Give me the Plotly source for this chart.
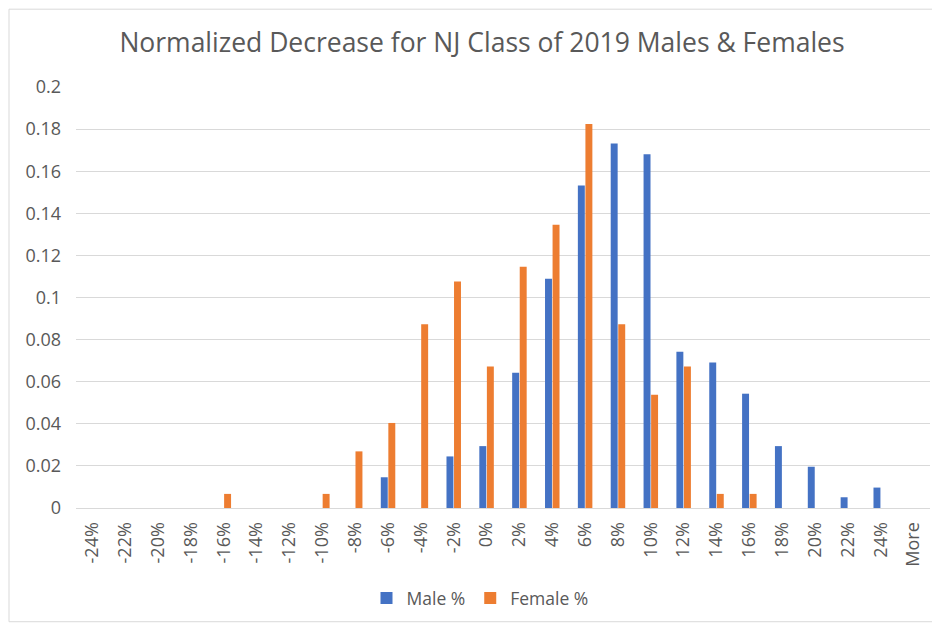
import plotly.graph_objects as go

categories = ["-24%", "-22%", "-20%", "-18%", "-16%", "-14%", "-12%", "-10%", "-8%", "-6%",
              "-4%", "-2%", "0%", "2%", "4%", "6%", "8%", "10%", "12%", "14%", "16%",
              "18%", "20%", "22%", "24%", "More"]
male = [0, 0, 0, 0, 0, 0, 0, 0, 0, 0.0146,
        0, 0.0245, 0.0294, 0.0642, 0.1089, 0.1532, 0.1731, 0.1680, 0.0742, 0.0691, 0.0543,
        0.0294, 0.0196, 0.0051, 0.0097, 0]
female = [0, 0, 0, 0, 0.0067, 0, 0, 0.0067, 0.0269, 0.0404,
          0.0873, 0.1076, 0.0672, 0.1146, 0.1346, 0.1824, 0.0873, 0.0538, 0.0672, 0.0067, 0.0067,
          0, 0, 0, 0, 0]
y_ticks = [0, 0.02, 0.04, 0.06, 0.08, 0.1, 0.12, 0.14, 0.16, 0.18, 0.2]
y_labels = ["0", "0.02", "0.04", "0.06", "0.08", "0.1", "0.12", "0.14", "0.16", "0.18", "0.2"]

font_fam = "Open Sans, Liberation Sans, sans-serif"
grey = "#595959"

W, H = 932, 617
L, R, T, B = 68, 10, 79, 116
pw, ph = W - L - R, H - T - B

fig = go.Figure()
fig.add_trace(go.Bar(x=categories, y=male, name="Male %", marker_color="#4472C4",
                     marker_line_width=0))
fig.add_trace(go.Bar(x=categories, y=female, name="Female %", marker_color="#ED7D31",
                     marker_line_width=0))

fig.update_layout(
    width=W, height=H,
    margin=dict(l=L, r=R, t=T, b=B),
    paper_bgcolor="white", plot_bgcolor="white",
    barmode="group", bargap=0.54, bargroupgap=0.08,
    title=dict(text="Normalized Decrease for NJ Class of 2019 Males & Females",
               x=(482 - 8) / W, xanchor="center", y=1 - (43 - 8) / H, yanchor="middle",
               font=dict(family=font_fam, size=26.5, color=grey)),
    font=dict(family=font_fam, color=grey),
    legend=dict(orientation="h", x=(480 - 8 - L) / pw, xanchor="center",
                y=-(598 - 509) / ph, yanchor="middle",
                font=dict(size=17.5, color=grey), traceorder="normal"),
    xaxis=dict(type="category", tickangle=-90, tickfont=dict(size=18, color=grey),
               showgrid=False, showline=True, linecolor="#d9d9d9", linewidth=1,
               ticks="", ticklabelstandoff=6),
    yaxis=dict(range=[0, 0.2], tickvals=y_ticks, ticktext=y_labels,
               tickfont=dict(size=18, color=grey), showgrid=True, gridcolor="#d9d9d9",
               gridwidth=1, zeroline=True, zerolinecolor="#d9d9d9", zerolinewidth=1,
               showline=False, ticks="", ticklabelstandoff=14),
    shapes=[dict(type="rect", xref="paper", yref="paper",
                 x0=-(L - 1) / pw, x1=1 + (R - 2) / pw, y0=-(B - 2) / ph, y1=1 + (T - 1) / ph,
                 line=dict(color="#d9d9d9", width=1), fillcolor="rgba(0,0,0,0)")],
)

fig.write_html("out.html")
